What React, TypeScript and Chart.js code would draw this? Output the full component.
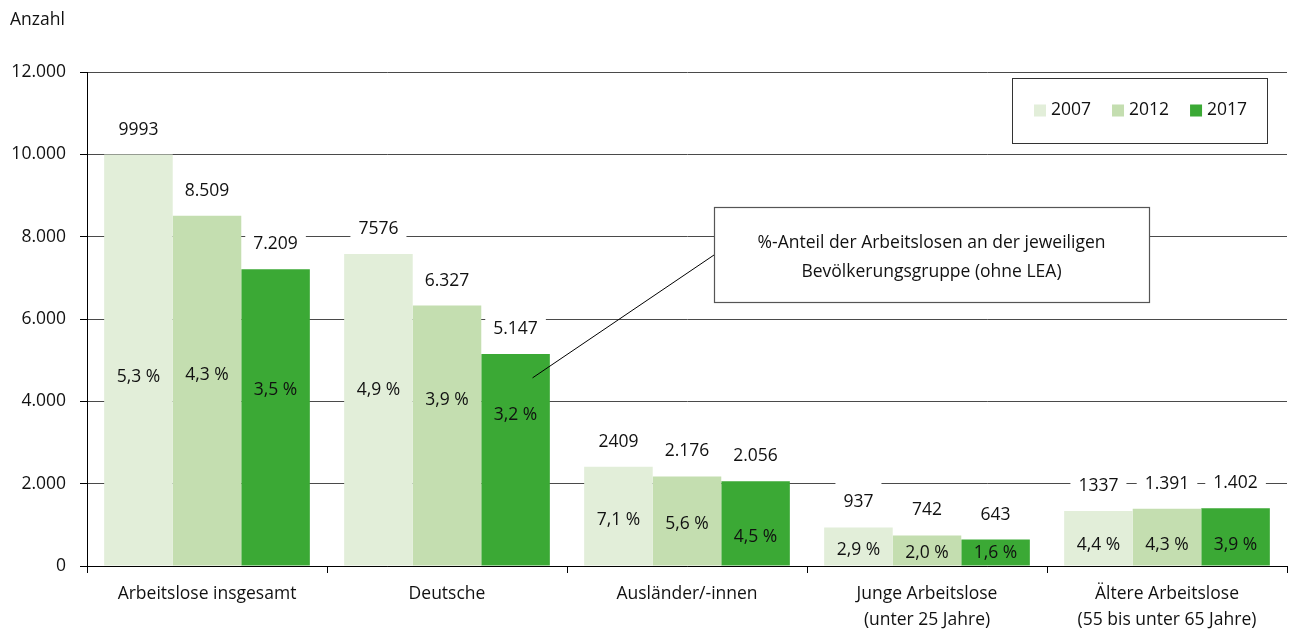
import React, { useEffect, useRef } from "react";
import { Chart, registerables } from "chart.js";

Chart.register(...registerables);

// ---------- data ----------
const CATEGORIES: (string | string[])[] = [
  "Arbeitslose insgesamt",
  "Deutsche",
  "Ausländer/-innen",
  ["Junge Arbeitslose", "(unter 25 Jahre)"],
  ["Ältere Arbeitslose", "(55 bis unter 65 Jahre)"],
];
const YEARS = ["2007", "2012", "2017"];
const VALUES_2007 = [9993, 7576, 2409, 937, 1337];
const VALUES_2012 = [8509, 6327, 2176, 742, 1391];
const VALUES_2017 = [7209, 5147, 2056, 643, 1402];
const PCT_2007 = [5.3, 4.9, 7.1, 2.9, 4.4];
const PCT_2012 = [4.3, 3.9, 5.6, 2.0, 4.3];
const PCT_2017 = [3.5, 3.2, 4.5, 1.6, 3.9];
const Y_TICKS = [0, 2000, 4000, 6000, 8000, 10000, 12000];
const Y_TITLE = "Anzahl";
const NOTE_LINES = [
  "%-Anteil der Arbeitslosen an der jeweiligen",
  "Bevölkerungsgruppe (ohne LEA)",
];

// ---------- layout / style ----------
const COLORS = ["#e2eed9", "#c4deb0", "#3ba935"];
const FONT_FAMILY = '"Open Sans", "Noto Sans", sans-serif';
const FONT_SIZE = 17.5;
const TEXT_COLOR = "#111111";
// vertical anchor (in axis units) where the percentage labels sit inside the bars
const PCT_ANCHOR_2007 = [4600, 4280, 1120, 390, 510];
const PCT_ANCHOR_2012 = [4650, 4030, 1020, 320, 510];
const PCT_ANCHOR_2017 = [4280, 3670, 700, 320, 510];
const LEGEND_BOX = { x: 1012, y: 78, w: 255, h: 65 };
const NOTE_BOX = { x: 714, y: 207, w: 435, h: 95 };

const VALUE_SERIES = [VALUES_2007, VALUES_2012, VALUES_2017];
const PCT_SERIES = [PCT_2007, PCT_2012, PCT_2017];
const PCT_ANCHORS = [PCT_ANCHOR_2007, PCT_ANCHOR_2012, PCT_ANCHOR_2017];

function thousands(v: number): string {
  const s = String(Math.round(v));
  return s.replace(/\B(?=(\d{3})+(?!\d))/g, ".");
}
function valueLabel(series: number, v: number): string {
  // 2007 values are printed without separator in the original
  return series === 0 ? String(v) : thousands(v);
}
function pctLabel(v: number): string {
  return v.toFixed(1).replace(".", ",") + " %";
}

const font = (size = FONT_SIZE) => `${size}px ${FONT_FAMILY}`;

const decorPlugin = {
  id: "decor",
  afterDatasetsDraw(chart: any) {
    const ctx = chart.ctx as CanvasRenderingContext2D;
    const yScale = chart.scales.y;
    ctx.save();
    ctx.font = font();
    ctx.textAlign = "center";
    ctx.textBaseline = "middle";

    // percentage labels inside bars
    chart.data.datasets.forEach((_ds: any, i: number) => {
      const meta = chart.getDatasetMeta(i);
      meta.data.forEach((bar: any, j: number) => {
        const y = yScale.getPixelForValue(PCT_ANCHORS[i][j]);
        ctx.fillStyle = TEXT_COLOR;
        ctx.fillText(pctLabel(PCT_SERIES[i][j]), bar.x, y);
      });
    });

    // value labels above bars with white box
    chart.data.datasets.forEach((ds: any, i: number) => {
      const meta = chart.getDatasetMeta(i);
      meta.data.forEach((bar: any, j: number) => {
        const txt = valueLabel(i, ds.data[j]);
        const cy = bar.y - 25;
        const w = ctx.measureText(txt).width + 16;
        ctx.fillStyle = "#ffffff";
        ctx.fillRect(bar.x - w / 2, cy - 21, w, 33);
        ctx.fillStyle = TEXT_COLOR;
        ctx.fillText(txt, bar.x, cy);
      });
    });
    ctx.restore();
  },
  afterDraw(chart: any) {
    const ctx = chart.ctx as CanvasRenderingContext2D;
    const yScale = chart.scales.y;
    ctx.save();

    // axis title
    ctx.font = font();
    ctx.fillStyle = TEXT_COLOR;
    ctx.textAlign = "left";
    ctx.textBaseline = "middle";
    ctx.fillText(Y_TITLE, 10, 20);

    // legend
    ctx.fillStyle = "#ffffff";
    ctx.fillRect(LEGEND_BOX.x, LEGEND_BOX.y, LEGEND_BOX.w, LEGEND_BOX.h);
    ctx.strokeStyle = "#333333";
    ctx.lineWidth = 1;
    ctx.strokeRect(LEGEND_BOX.x + 0.5, LEGEND_BOX.y + 0.5, LEGEND_BOX.w, LEGEND_BOX.h);
    let lx = LEGEND_BOX.x + 22;
    const ly = LEGEND_BOX.y + LEGEND_BOX.h / 2;
    chart.data.datasets.forEach((ds: any) => {
      ctx.fillStyle = ds.backgroundColor;
      ctx.fillRect(lx, ly - 6, 12, 12);
      ctx.fillStyle = TEXT_COLOR;
      ctx.textAlign = "left";
      ctx.fillText(ds.label, lx + 17, ly);
      lx += 17 + ctx.measureText(ds.label).width + 21;
    });

    // note box with leader line
    const meta = chart.getDatasetMeta(2);
    const target = meta.data[1];
    const tx = target.x + 17;
    const ty = yScale.getPixelForValue(4570);
    ctx.strokeStyle = "#000000";
    ctx.lineWidth = 1;
    ctx.beginPath();
    ctx.moveTo(NOTE_BOX.x, NOTE_BOX.y + 48);
    ctx.lineTo(tx, ty);
    ctx.stroke();

    ctx.fillStyle = "#ffffff";
    ctx.fillRect(NOTE_BOX.x, NOTE_BOX.y, NOTE_BOX.w, NOTE_BOX.h);
    ctx.strokeStyle = "#555555";
    ctx.lineWidth = 1.2;
    ctx.strokeRect(NOTE_BOX.x + 0.5, NOTE_BOX.y + 0.5, NOTE_BOX.w, NOTE_BOX.h);
    ctx.fillStyle = TEXT_COLOR;
    ctx.textAlign = "center";
    const cx = NOTE_BOX.x + NOTE_BOX.w / 2;
    ctx.fillText(NOTE_LINES[0], cx, NOTE_BOX.y + 36);
    ctx.fillText(NOTE_LINES[1], cx, NOTE_BOX.y + 65);
    ctx.restore();
  },
};

export default function App() {
  const ref = useRef<HTMLCanvasElement | null>(null);
  useEffect(() => {
    if (!ref.current) return;
    const chart = new Chart(ref.current, {
      type: "bar",
      data: {
        labels: CATEGORIES,
        datasets: YEARS.map((y, i) => ({
          label: y,
          data: VALUE_SERIES[i],
          backgroundColor: COLORS[i],
          borderWidth: 0,
          categoryPercentage: 0.857,
          barPercentage: 1.0,
        })),
      },
      options: {
        animation: false,
        responsive: false,
        devicePixelRatio: 1,
        layout: { padding: { left: 0, right: 2, top: 72, bottom: 0 } },
        plugins: {
          legend: { display: false },
          tooltip: { enabled: false },
          title: { display: false },
        },
        scales: {
          x: {
            grid: {
              display: true,
              drawOnChartArea: false,
              drawTicks: true,
              tickLength: 7,
              color: "#000000",
              offset: true,
            },
            border: { display: true, color: "#000000", width: 1 },
            ticks: {
              font: { family: FONT_FAMILY, size: FONT_SIZE, lineHeight: 1.43 },
              color: TEXT_COLOR,
              padding: 9,
              maxRotation: 0,
              autoSkip: false,
            },
            afterFit: (s: any) => {
              s.height = 64;
            },
          },
          y: {
            min: 0,
            max: 12000,
            afterBuildTicks: (s: any) => {
              s.ticks = Y_TICKS.map((v) => ({ value: v }));
            },
            ticks: {
              font: { family: FONT_FAMILY, size: FONT_SIZE },
              color: TEXT_COLOR,
              padding: 14,
              callback: (v: any) => thousands(Number(v)),
            },
            grid: {
              color: "#4a4a4a",
              tickColor: "#000000",
              tickLength: 7,
              drawTicks: true,
            },
            border: { display: true, color: "#000000", width: 1 },
            afterFit: (s: any) => {
              s.width = 87;
            },
          },
        },
      },
      plugins: [decorPlugin],
    });
    return () => chart.destroy();
  }, []);

  return (
    <div style={{ position: "fixed", left: 0, top: 0, width: 1289, height: 630, background: "#fff" }}>
      <canvas ref={ref} width={1289} height={630} style={{ width: 1289, height: 630, display: "block" }} />
    </div>
  );
}
